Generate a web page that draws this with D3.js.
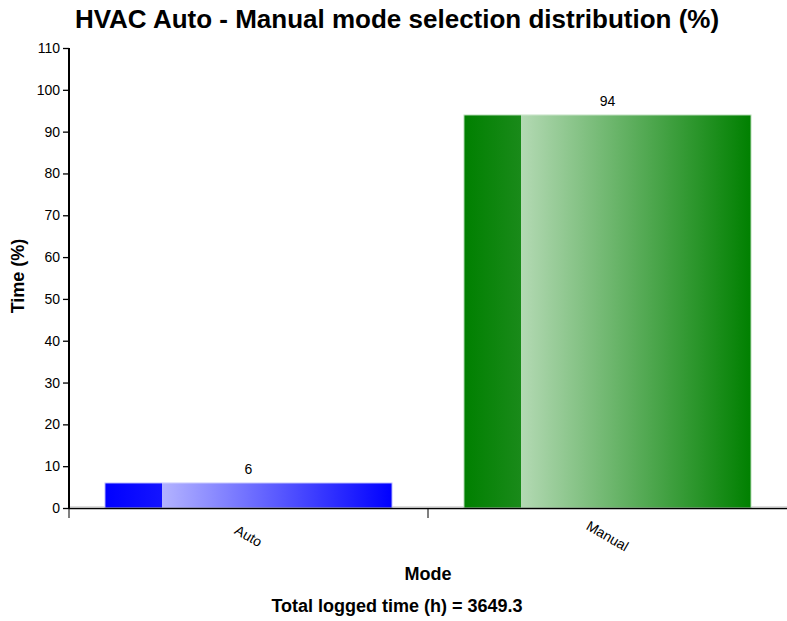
<!DOCTYPE html>
<html>
<head>
<meta charset="utf-8">
<script src="https://cdn.jsdelivr.net/npm/d3@7"></script>
<style>
  html, body { margin: 0; padding: 0; background: #fff; }
  svg { display: block; font-family: "Liberation Sans", Arial, sans-serif; }
</style>
</head>
<body>
<svg id="chart" width="787" height="621"></svg>
<script>
// Mode selection share over the logged period
const modes = ["Auto", "Manual"];
const shares = [6, 94];
const baseColors = ["#0000ff", "#008000"];
const edgeColors = ["#1414ff", "#1a8a1a"];
const lightColors = ["#b3b3ff", "#b3d9b3"];
const strokeColors = ["#d6d6ff", "#d2ead2"];
const yTicks = [0, 10, 20, 30, 40, 50, 60, 70, 80, 90, 100, 110];
const totalHours = 3649.3;

const W = 787, H = 621;
const margin = { top: 48, right: 0, bottom: 113, left: 69 };
const innerW = W - margin.left - margin.right;
const innerH = H - margin.top - margin.bottom;

const svg = d3.select("#chart");

// Bar gradients: solid leading strip, then light-to-full fade
const defs = svg.append("defs");
modes.forEach((m, i) => {
  const g = defs.append("linearGradient")
    .attr("id", "grad-" + i)
    .attr("x1", "0%").attr("x2", "100%").attr("y1", "0%").attr("y2", "0%");
  g.append("stop").attr("offset", "0%").attr("stop-color", baseColors[i]);
  g.append("stop").attr("offset", "20%").attr("stop-color", edgeColors[i]);
  g.append("stop").attr("offset", "20%").attr("stop-color", lightColors[i]);
  g.append("stop").attr("offset", "100%").attr("stop-color", baseColors[i]);
});

const plot = svg.append("g").attr("transform", `translate(${margin.left},${margin.top})`);

const x = d3.scaleBand().domain(modes).range([0, innerW])
  .paddingInner(0.2).paddingOuter(0.1);
const xOuter = d3.scaleBand().domain(modes).range([0, innerW]).padding(0);
const y = d3.scaleLinear().domain([0, 110]).range([innerH, 0]);

// faint baseline at zero
plot.append("line")
  .attr("x1", 0).attr("x2", innerW)
  .attr("y1", y(0) - 1.5).attr("y2", y(0) - 1.5)
  .attr("stroke", "#d4d4d4").attr("stroke-width", 0.8);

// bars
plot.selectAll("rect.bar")
  .data(modes)
  .join("rect")
  .attr("class", "bar")
  .attr("x", d => x(d))
  .attr("width", x.bandwidth())
  .attr("y", (d, i) => y(shares[i]))
  .attr("height", (d, i) => y(0) - y(shares[i]))
  .attr("fill", (d, i) => `url(#grad-${i})`)
  .attr("stroke", (d, i) => strokeColors[i])
  .attr("stroke-width", 1);

// value labels
plot.selectAll("text.val")
  .data(modes)
  .join("text")
  .attr("class", "val")
  .attr("x", d => x(d) + x.bandwidth() / 2)
  .attr("y", (d, i) => y(shares[i]) - 9)
  .attr("text-anchor", "middle")
  .attr("font-size", 14)
  .attr("fill", "#000")
  .text((d, i) => shares[i]);

// y axis
const yAxis = plot.append("g")
  .call(d3.axisLeft(y).tickValues(yTicks).tickSize(6).tickPadding(3));
yAxis.selectAll("text").attr("font-size", 14).attr("fill", "#000")
  .style("font-family", "Liberation Sans, Arial, sans-serif");
yAxis.select(".domain").attr("stroke", "#000").attr("stroke-width", 2)
  .attr("d", `M0,0V${innerH}`);
yAxis.selectAll(".tick line").attr("stroke", "#000").attr("stroke-width", 1.3);

// x axis: ticks at band boundaries, labels centred under bars
const xAxis = plot.append("g").attr("transform", `translate(0,${innerH})`);
xAxis.append("line")
  .attr("x1", 0).attr("x2", innerW + 20)
  .attr("y1", 0.5).attr("y2", 0.5)
  .attr("stroke", "#000").attr("stroke-width", 1.5);
xAxis.selectAll("line.tick")
  .data(modes)
  .join("line")
  .attr("class", "tick")
  .attr("x1", d => xOuter(d)).attr("x2", d => xOuter(d))
  .attr("y1", 0).attr("y2", 10)
  .attr("stroke", "#000").attr("stroke-width", 1);
xAxis.selectAll("text.tl")
  .data(modes)
  .join("text")
  .attr("class", "tl")
  .attr("transform", d => `translate(${x(d) + x.bandwidth() / 2},${28}) rotate(30)`)
  .attr("text-anchor", "middle")
  .attr("dy", "0.35em")
  .attr("font-size", 14)
  .attr("fill", "#000")
  .text(d => d);

// titles
svg.append("text")
  .attr("x", 397).attr("y", 28)
  .attr("text-anchor", "middle")
  .attr("font-size", 26).attr("font-weight", "bold")
  .text("HVAC Auto - Manual mode selection distribution (%)");

svg.append("text")
  .attr("transform", `translate(24,${margin.top + innerH / 2 - 2}) rotate(-90)`)
  .attr("text-anchor", "middle")
  .attr("font-size", 18).attr("font-weight", "bold")
  .text("Time (%)");

svg.append("text")
  .attr("x", 428).attr("y", 580)
  .attr("text-anchor", "middle")
  .attr("font-size", 18).attr("font-weight", "bold")
  .text("Mode");

svg.append("text")
  .attr("x", 397).attr("y", 612)
  .attr("text-anchor", "middle")
  .attr("font-size", 18).attr("font-weight", "bold")
  .text(`Total logged time (h) = ${totalHours}`);
</script>
</body>
</html>
